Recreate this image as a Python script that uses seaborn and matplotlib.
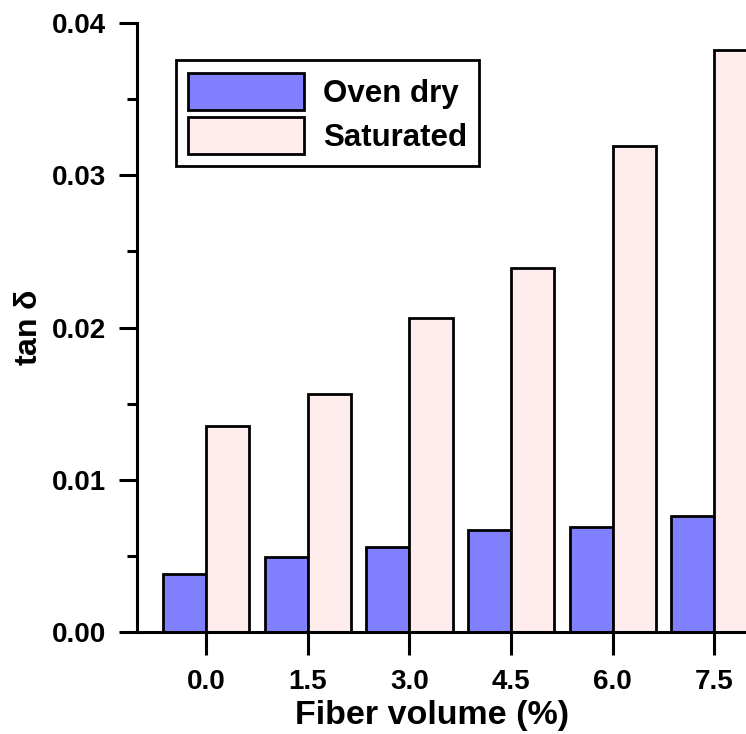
import pandas as pd
import matplotlib
matplotlib.use("Agg")
import matplotlib.pyplot as plt
import seaborn as sns
from matplotlib.ticker import MultipleLocator, FormatStrFormatter

fiber_volume = ["0.0", "1.5", "3.0", "4.5", "6.0", "7.5"]
oven_dry = [0.0038, 0.0049, 0.0056, 0.0067, 0.0069, 0.0076]
saturated = [0.0135, 0.0156, 0.0206, 0.0239, 0.0319, 0.0382]
series_names = ["Oven dry", "Saturated"]
colors = ["#8080ff", "#ffeded"]

df = pd.DataFrame({
    "Fiber": fiber_volume * 2,
    "tan": oven_dry + saturated,
    "Condition": [series_names[0]] * 6 + [series_names[1]] * 6,
})

sns.set_style("ticks")
plt.rcParams["font.family"] = ["Liberation Sans", "DejaVu Sans"]
plt.rcParams["font.weight"] = "bold"
plt.rcParams["mathtext.fontset"] = "custom"
plt.rcParams["mathtext.rm"] = "Liberation Sans"
plt.rcParams["text.color"] = "black"
plt.rcParams["axes.labelcolor"] = "black"
plt.rcParams["xtick.color"] = "black"
plt.rcParams["ytick.color"] = "black"
plt.rcParams["axes.edgecolor"] = "black"

fig = plt.figure(figsize=(7.46, 7.34), dpi=100)
ax = fig.add_axes([137 / 746, 102 / 734, 1 - 137 / 746, (632 - 23) / 734])

sns.barplot(
    data=df, x="Fiber", y="tan", hue="Condition",
    order=fiber_volume, hue_order=series_names,
    palette=colors, width=0.85, edgecolor="black", linewidth=2,
    saturation=1, ax=ax,
)

ax.set_xlim(-0.68, 5.31)
ax.set_ylim(0, 0.04)
ax.yaxis.set_major_locator(MultipleLocator(0.01))
ax.yaxis.set_minor_locator(MultipleLocator(0.005))
ax.yaxis.set_major_formatter(FormatStrFormatter("%.2f"))

for side in ["top", "right"]:
    ax.spines[side].set_visible(False)
for side in ["left", "bottom"]:
    ax.spines[side].set_linewidth(2.2)

ax.tick_params(axis="y", which="major", length=13, width=2.2, labelsize=20, pad=9)
ax.tick_params(axis="y", which="minor", length=7, width=2.2)
ax.tick_params(axis="x", which="major", length=16.5, width=2.2, labelsize=20, pad=10)
for lbl in ax.get_xticklabels() + ax.get_yticklabels():
    lbl.set_fontweight("bold")

ax.set_xlabel("Fiber volume (%)", fontsize=24.5, fontweight="bold")
ax.xaxis.set_label_coords(0.484, -0.111)
ax.set_ylabel(r"tan $\mathrm{\delta}$", fontsize=23, fontweight="bold", labelpad=6)

ax.legend(
    title=None, loc="upper left", bbox_to_anchor=(0.064, 0.939),
    prop={"weight": "bold", "size": 22.5},
    frameon=True, fancybox=False, edgecolor="black",
    handlelength=3.7, handleheight=1.45, handletextpad=0.6,
    borderpad=0.4, labelspacing=0.22, borderaxespad=0,
)
ax.get_legend().get_frame().set_linewidth(2)
ax.get_legend().get_frame().set_alpha(1)

plt.savefig("out.png", dpi=100)
